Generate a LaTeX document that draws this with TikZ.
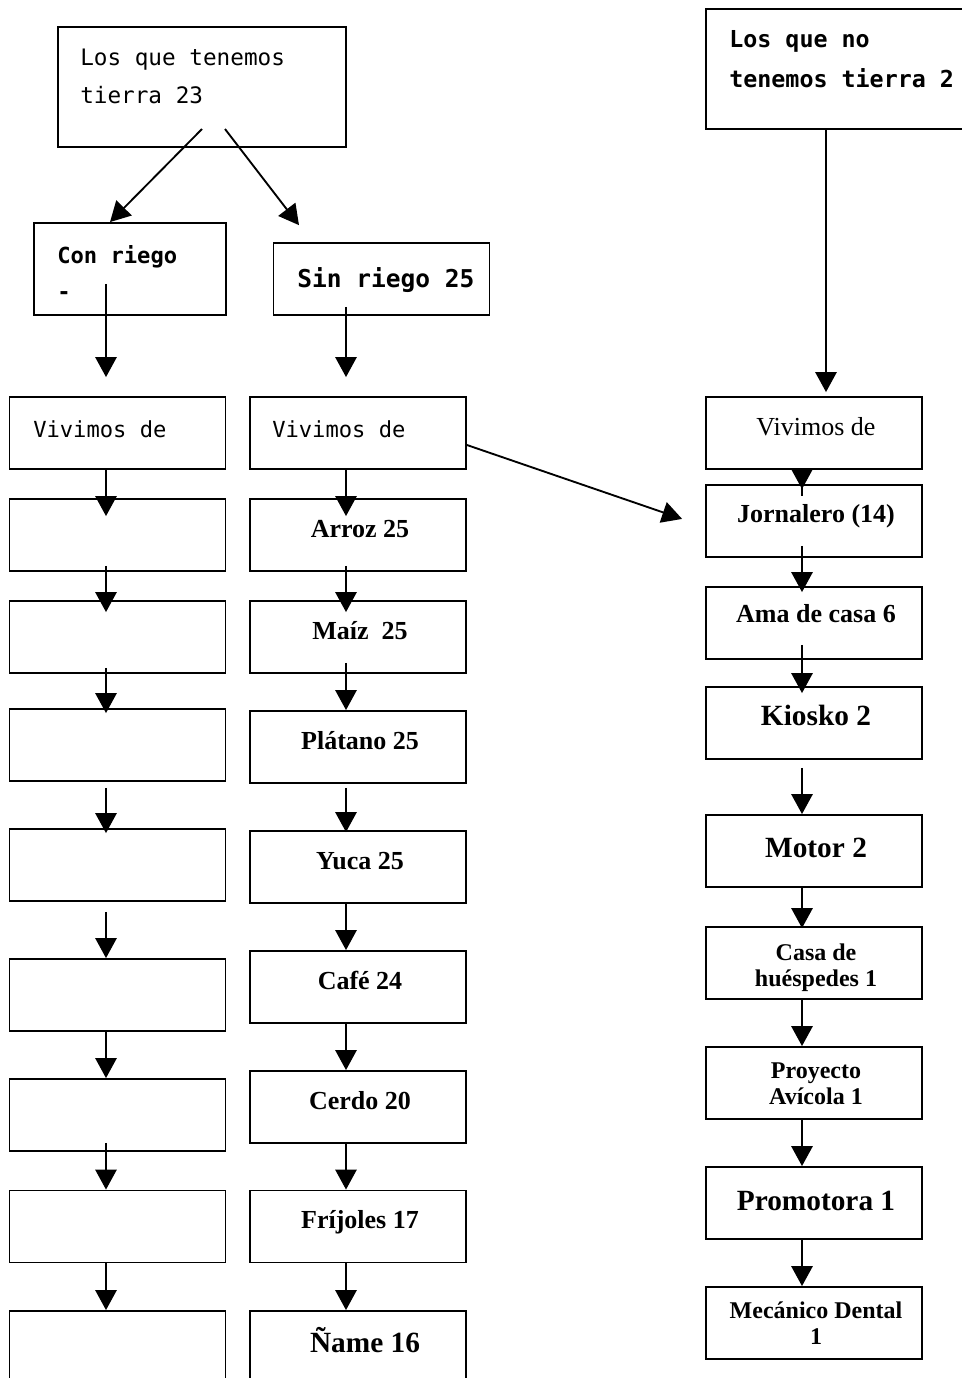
\documentclass[tikz,border=0pt]{standalone}
\usepackage{fontspec}
\setmainfont{Liberation Serif}
\setmonofont{DejaVu Sans Mono}
\usetikzlibrary{arrows.meta}

\newcommand{\twoline}[2]{\begin{tabular}[t]{@{}c@{}}#1\\#2\end{tabular}}
\newcommand{\twoleft}[2]{\begin{tabular}[t]{@{}l@{}}#1\\#2\end{tabular}}

\tikzset{
    box/.style={draw, line width=1.4pt, minimum width=162pt, minimum height=54pt, inner sep=0pt},
    flow/.style={-{Triangle[length=15pt, width=16pt]}, line width=1.4pt},
    mono/.style={anchor=base west, inner sep=0pt, font=\ttfamily\fontsize{16.6}{27}\selectfont},
    txt/.style={anchor=base, inner sep=0pt, font=\bfseries\fontsize{19.5}{21}\selectfont},
    txtbig/.style={anchor=base, inner sep=0pt, font=\bfseries\fontsize{22}{24}\selectfont},
    txtsmall/.style={anchor=base, inner sep=0pt, font=\bfseries\fontsize{18}{19.5}\selectfont},
    txtplain/.style={anchor=base, inner sep=0pt, font=\fontsize{19.5}{21}\selectfont},
}

\begin{document}
\begin{tikzpicture}[x=0.75pt, y=-0.75pt]
    \useasboundingbox (0,0) rectangle (961,1378);

    % top boxes
    \node[box, minimum width=216pt, minimum height=90pt] (tierra) at (202,87) {};
    \node[box, minimum width=144pt, minimum height=69pt] (con) at (130,269) {};
    \node[box] (sin) at (381.5,279) {};
    \node[box, minimum width=195pt, minimum height=90pt] (sintierra) at (836,69) {};

    \node[mono, font=\ttfamily\fontsize{17}{28.5}\selectfont] (tierraT) at (80,65) {\twoleft{Los que tenemos}{tierra 23}};
    \node[mono, font=\ttfamily\bfseries\fontsize{16.6}{27}\selectfont] (conT) at (57,263) {\twoleft{Con riego}{-}};
    \node[mono, font=\ttfamily\bfseries\fontsize{18.4}{20}\selectfont] (sinT) at (297,287) {Sin riego 25};
    \node[mono, font=\ttfamily\bfseries\fontsize{17.5}{30}\selectfont] (sintierraT) at (729,47) {\twoleft{Los que no}{tenemos tierra 2}};

    % columns
    \foreach \y [count=\i] in {433,535,637,745,865,995,1115,1226.5,1347}
        \node[box] (l\i) at (117.5,\y) {};
    \foreach \y [count=\i] in {433,535,637,747,867,987,1107,1226.5,1347}
        \node[box] (c\i) at (358,\y) {};
    \foreach \y [count=\i] in {433,521,623,723,851,963,1083,1203,1323}
        \node[box] (r\i) at (814,\y) {};

    \node[mono] (lt1) at (33,437) {Vivimos de};
    \node[mono] (ct1) at (272,437) {Vivimos de};
    \foreach \y/\t [count=\i from 2] in {535/Arroz 25, 637/Maíz\ \ 25, 747/Plátano 25, 867/Yuca 25,
            987/Café 24, 1107/Cerdo 20, 1226.5/Fríjoles 17}
        \node[txt] (ct\i) at (360,\y+2) {\t};
    \node[txtbig] (ct9) at (365,1352) {Ñame 16};

    \foreach \y/\f/\t [count=\i] in {435/txtplain/Vivimos de, 522/txt/Jornalero (14), 622/txt/Ama de casa 6,
            725/txtbig/Kiosko 2, 857/txtbig/Motor 2, 960/txtsmall/{\twoline{Casa de}{huéspedes 1}},
            1078/txtsmall/{\twoline{Proyecto}{Avícola 1}}, 1210/txtbig/Promotora 1,
            1318/txtsmall/{\twoline{Mecánico Dental}{1}}}
        \node[\f] (rt\i) at (816,\y) {\t};

    % arrows
    \coordinate (ax) at (106,0);
    \coordinate (bx) at (346,0);
    \coordinate (rx) at (802,0);
    \coordinate (nx) at (826,0);
    \coordinate (tl) at (202,129);
    \coordinate (tr) at (225,129);

    \draw[flow] (tl) -- (con.north -| 110,0);
    \draw[flow, shorten >=16pt] (tr) -- (sin.north -| 312,0);

    \foreach \a/\b/\s/\e in {con/l1/-24pt/14.25pt, l1/l2/0pt/-13.5pt, l2/l3/-4.5pt/-9pt, l3/l4/-4.5pt/-3.75pt,
            l4/l5/4.5pt/-3.75pt, l5/l6/7.5pt/0pt, l6/l7/0pt/0pt, l7/l8/-6.75pt/0pt, l8/l9/0pt/0pt}
        \draw[flow, shorten <=\s, shorten >=\e] (\a.south -| ax) -- (\b.north -| ax);
    \foreach \a/\b/\s/\e in {sin/c1/-6.75pt/14.25pt, c1/c2/0pt/-13.5pt, c2/c3/-4.5pt/-9pt, c3/c4/-8.25pt/0pt,
            c4/c5/3pt/-1.5pt, c5/c6/0pt/0pt, c6/c7/0pt/0pt, c7/c8/0pt/0pt, c8/c9/0pt/0pt}
        \draw[flow, shorten <=\s, shorten >=\e] (\a.south -| bx) -- (\b.north -| bx);
    \draw[flow, shorten >=3pt] (sintierra.south -| nx) -- (r1.north -| nx);
    \foreach \a/\b/\s/\e in {r1/r2/-19.5pt/-3.75pt, r2/r3/-9pt/-4.5pt, r3/r4/-11.25pt/-5.25pt, r4/r5/6pt/0pt,
            r5/r6/0pt/-1.5pt, r6/r7/0pt/0pt, r7/r8/0pt/0pt, r8/r9/0pt/0pt}
        \draw[flow, shorten <=\s, shorten >=\e] (\a.south -| rx) -- (\b.north -| rx);

    \draw[flow, shorten >=18.2pt] ([yshift=-9pt]c1.east) -- ([yshift=-4.35pt]r2.west);
\end{tikzpicture}
\end{document}
